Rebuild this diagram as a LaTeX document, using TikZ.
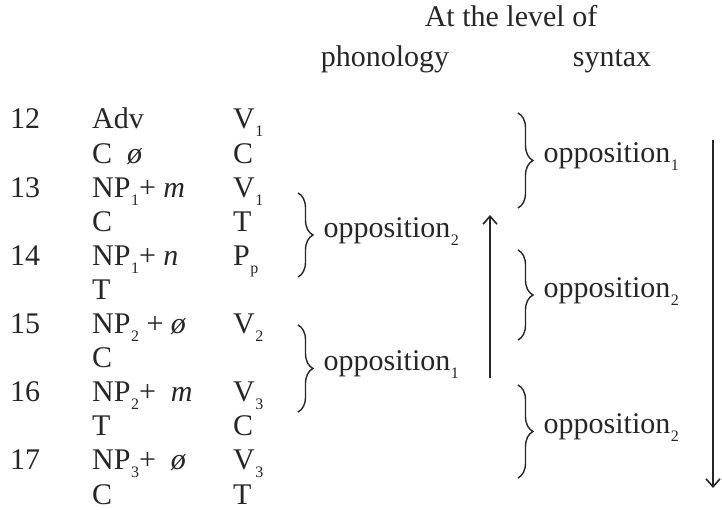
\documentclass[tikz,border=0pt]{standalone}
\usepackage{fontspec}
\setmainfont{Liberation Serif}
\usepackage{tikz}
\usetikzlibrary{arrows.meta,positioning,decorations.pathreplacing}

\newcommand{\lowix}[1]{\kern0.5pt\raisebox{-8pt}{\fontsize{16}{16}\selectfont #1}}

\begin{document}
\begin{tikzpicture}[x=1pt,y=1pt,font=\fontsize{30}{34}\selectfont,color=black!85,
  row/.style={anchor=base west,inner sep=0pt},
  head/.style={anchor=base,inner sep=0pt},
  brc/.style={decorate,decoration={brace,amplitude=15pt},line width=1.4pt},
  lab/.style={anchor=mid west,xshift=25pt,inner sep=0pt},
  arr/.style={line width=1.6pt,-{Straight Barb[length=8pt,width=14pt]}}]
\useasboundingbox (0,0) rectangle (722,510);
% headings
\node[head] (level) at (511,483) {At the level of};
\node[head] (phon) at (385,443) {phonology};
\node[head] (synt) at (612,443) {syntax};
% rows of the table
\foreach \k/\num in {0/12,2/13,4/14,6/15,8/16,10/17} {
    \node[row] (num\k) at (10,381-34.1*\k) {\num};
}
\foreach \k/\txt in {0/Adv,1/{C\hspace{15pt}\textit{ø}},2/{NP\lowix{1}+ \textit{m}},3/C,
    4/{NP\lowix{1}+ \textit{n}},5/T,6/{NP\lowix{2} + \textit{ø}},7/C,
    8/{NP\lowix{2}+ \ \textit{m}},9/T,10/{NP\lowix{3}+ \ \textit{ø}},11/C} {
    \node[row] (lhs\k) at (92,381-34.1*\k) {\txt};
}
\foreach \k/\txt in {0/{V\lowix{1}},1/C,2/{V\lowix{1}},3/T,4/{P\lowix{p}},
    6/{V\lowix{2}},8/{V\lowix{3}},9/C,10/{V\lowix{3}},11/T} {
    \node[row] (rhs\k) at (233,381-34.1*\k) {\txt};
}
% phonology
\coordinate (pb1t) at (298,317);
\coordinate (pb1b) at (298,233);
\coordinate (pb2t) at (298,185);
\coordinate (pb2b) at (298,98);
\draw[brc] (pb1t) -- node[lab] (phopp2) {opposition\lowix{2}} (pb1b);
\draw[brc] (pb2t) -- node[lab] (phopp1) {opposition\lowix{1}} (pb2b);
\coordinate (pu0) at (490,132);
\coordinate (pu1) at (490,295);
\draw[arr] (pu0) -- (pu1);
% syntax
\coordinate (sb1t) at (518,397);
\coordinate (sb1b) at (518,302);
\coordinate (sb2t) at (518,260);
\coordinate (sb2b) at (518,170);
\coordinate (sb3t) at (518,125);
\coordinate (sb3b) at (518,32);
\draw[brc] (sb1t) -- node[lab] (syopp1) {opposition\lowix{1}} (sb1b);
\draw[brc] (sb2t) -- node[lab] (syopp2) {opposition\lowix{2}} (sb2b);
\draw[brc] (sb3t) -- node[lab] (syopp3) {opposition\lowix{2}} (sb3b);
\coordinate (sd0) at (713,370);
\coordinate (sd1) at (713,22);
\draw[arr] (sd0) -- (sd1);
\end{tikzpicture}
\end{document}
